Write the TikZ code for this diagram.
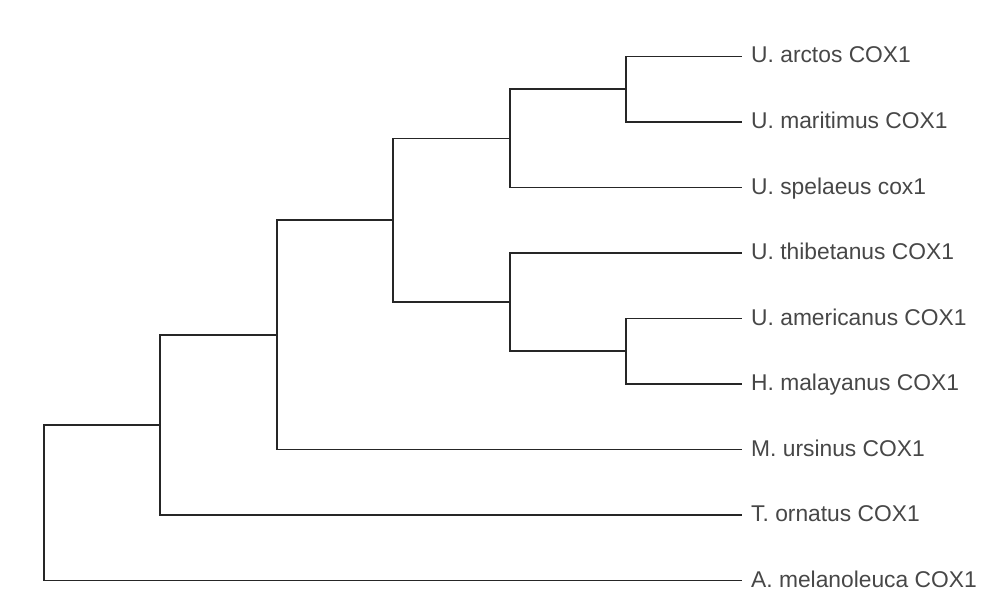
\documentclass[tikz,border=0pt]{standalone}
\usepackage{fontspec}
\setmainfont{Liberation Sans}
\begin{document}
\begin{tikzpicture}[x=1pt,y=-1pt,
  branch/.style={draw=black!85, line width=1.8pt, line cap=rect},
  leaflabel/.style={anchor=base west, inner sep=0pt, text=black!72, font=\fontsize{22.8}{27}\selectfont}]
\useasboundingbox (0,0) rectangle (987,599);
% leaf tips
\coordinate (tA) at (741,56.5);
\coordinate (tB) at (741,122);
\coordinate (tC) at (741,187.5);
\coordinate (tD) at (741,253);
\coordinate (tE) at (741,318.5);
\coordinate (tF) at (741,384);
\coordinate (tG) at (741,449.5);
\coordinate (tH) at (741,515);
\coordinate (tI) at (741,580.5);
% labels
\node[leaflabel] (lA) at (751,63) {U. arctos COX1};
\node[leaflabel] (lB) at (751,128.5) {U. maritimus COX1};
\node[leaflabel] (lC) at (751,194) {U. spelaeus cox1};
\node[leaflabel] (lD) at (751,259.5) {U. thibetanus COX1};
\node[leaflabel] (lE) at (751,325) {U. americanus COX1};
\node[leaflabel] (lF) at (751,390.5) {H. malayanus COX1};
\node[leaflabel] (lG) at (751,456) {M. ursinus COX1};
\node[leaflabel] (lH) at (751,521.5) {T. ornatus COX1};
\node[leaflabel] (lI) at (751,587) {A. melanoleuca COX1};
% internal nodes
\coordinate (n1) at (626,89.25);
\coordinate (n2) at (510,138.4);
\coordinate (n3) at (626,351.25);
\coordinate (n4) at (510,302.1);
\coordinate (n5) at (393,220.25);
\coordinate (n6) at (277,334.9);
\coordinate (n7) at (160,425);
\coordinate (n8) at (44,502.7);
% branches
\draw[branch] (tA) -| (n1) |- (tB);
\draw[branch] (n1) -| (n2) |- (tC);
\draw[branch] (tE) -| (n3) |- (tF);
\draw[branch] (tD) -| (n4) |- (n3);
\draw[branch] (n2) -| (n5) |- (n4);
\draw[branch] (n5) -| (n6) |- (tG);
\draw[branch] (n6) -| (n7) |- (tH);
\draw[branch] (n7) -| (n8) |- (tI);
\end{tikzpicture}
\end{document}
